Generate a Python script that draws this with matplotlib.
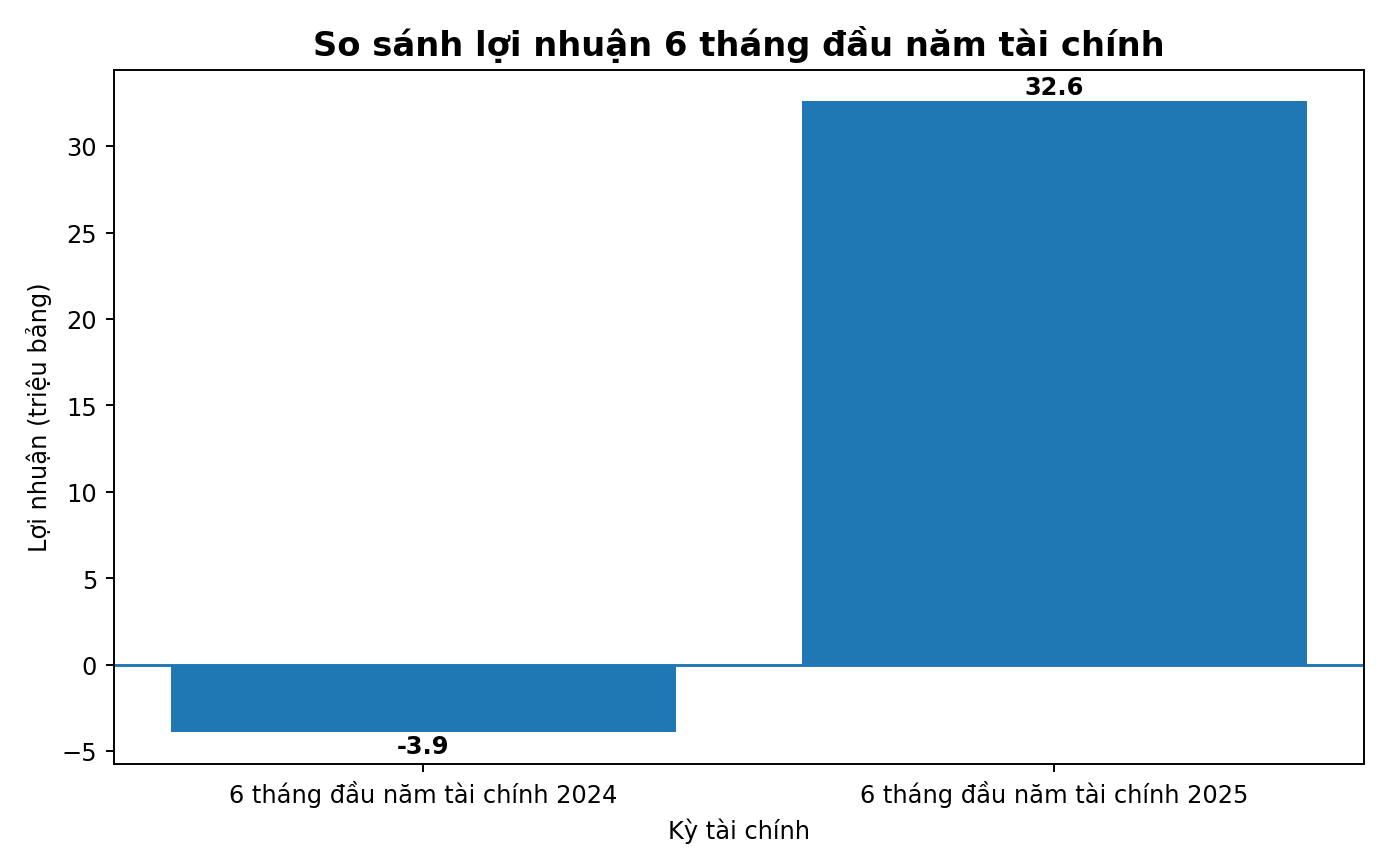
import matplotlib.pyplot as plt

periods = ['6 tháng đầu năm tài chính 2024', '6 tháng đầu năm tài chính 2025']
profits = [-3.9, 32.6]

plt.rcParams['font.family'] = ['DejaVu Sans']
DPI = 1390 / 8
fig, ax = plt.subplots(figsize=(8, 5), dpi=DPI)
fig.subplots_adjust(left=0.082, right=0.981, top=0.919, bottom=0.12)

bars = ax.bar(periods, profits, color='#1f77b4')
ax.axhline(0, color='#1f77b4', linewidth=1.2)

for b, v in zip(bars, profits):
    x = b.get_x() + b.get_width() / 2
    if v >= 0:
        ax.text(x, v + 0.1, f'{v}', ha='center', va='bottom', fontweight='bold')
    else:
        ax.text(x, v - 0.1, f'{v}', ha='center', va='top', fontweight='bold')

ax.set_title('So sánh lợi nhuận 6 tháng đầu năm tài chính', fontsize=14, fontweight='bold')
ax.set_xlabel('Kỳ tài chính')
ax.set_ylabel('Lợi nhuận (triệu bảng)')

plt.savefig('out.png', dpi=DPI)
